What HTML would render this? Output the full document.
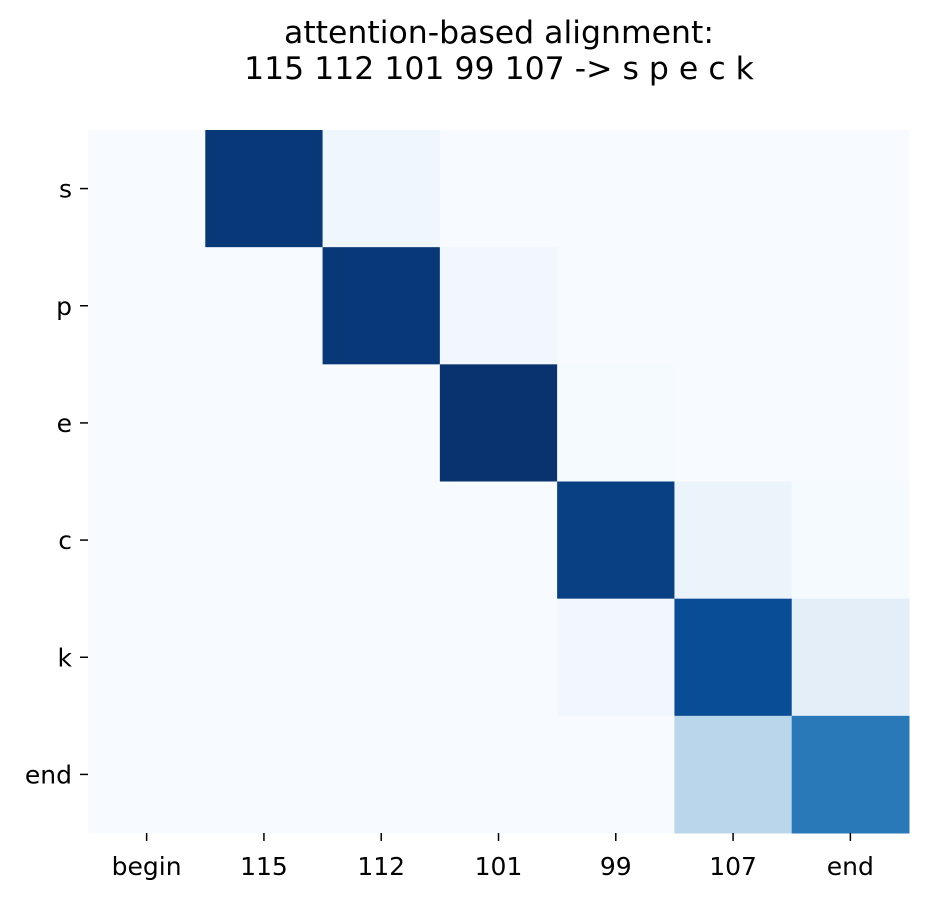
<!DOCTYPE html>
<html><head><meta charset="utf-8"><style>
body{margin:0;background:#fff;}
svg text{font-family:"DejaVu Sans","Liberation Sans",sans-serif;fill:#000;}
</style></head><body>
<svg id="chart" width="928" height="898">
<text x="499" y="43" text-anchor="middle" style="font-size:31.5px">attention-based alignment:</text>
<text x="499" y="79" text-anchor="middle" style="font-size:31.5px">115 112 101 99 107 -&gt; s p e c k</text>
<g id="cells"></g><g id="axes"></g>
</svg>
<script>
const xLabels=["begin","115","112","101","99","107","end"];
const yLabels=["s","p","e","c","k","end"];
const row_s=[0,0.97,0.04,0,0,0,0];
const row_p=[0,0,0.97,0.03,0,0,0];
const row_e=[0,0,0,0.99,0.01,0,0];
const row_c=[0,0,0,0,0.94,0.06,0.01];
const row_k=[0,0,0,0,0.03,0.89,0.1];
const row_end=[0,0,0,0,0,0.29,0.72];
const values=[row_s,row_p,row_e,row_c,row_k,row_end];
const X0=88,X1=909,Y0=130,Y1=833;
const cw=(X1-X0)/xLabels.length, ch=(Y1-Y0)/yLabels.length;
const xs=i=>X0+i*cw, ys=j=>Y0+j*ch;
const stops=["#f7fbff","#deebf7","#c6dbef","#9ecae1","#6baed6","#4292c6","#2171b5","#08519c","#08306b"];
function hex(h){return [1,3,5].map(k=>parseInt(h.substr(k,2),16));}
function blues(v){v=Math.max(0,Math.min(1,v));const p=v*8,i=Math.min(7,Math.floor(p)),t=p-i;
const a=hex(stops[i]),b=hex(stops[i+1]);return "rgb("+a.map((c,k)=>Math.round(c+(b[k]-c)*t)).join(",")+")";}
const NS="http://www.w3.org/2000/svg";
const cells=document.getElementById("cells"),axes=document.getElementById("axes");
values.forEach((row,j)=>row.forEach((v,i)=>{
 const r=document.createElementNS(NS,"rect");
 r.setAttribute("x",xs(i));r.setAttribute("y",ys(j));
 r.setAttribute("width",cw+0.5);r.setAttribute("height",ch+0.5);
 r.setAttribute("fill",blues(v));
 
 
 cells.appendChild(r);
}));
xLabels.forEach((l,i)=>{
 const cx=xs(i)+cw/2;
 const tk=document.createElementNS(NS,"line");
 tk.setAttribute("x1",cx);tk.setAttribute("x2",cx);tk.setAttribute("y1",Y1);tk.setAttribute("y2",Y1+8);
 tk.setAttribute("stroke","#000");tk.setAttribute("stroke-width","1.5");
 
 
 axes.appendChild(tk);
 const t=document.createElementNS(NS,"text");
 t.setAttribute("x",cx);t.setAttribute("y",Y1+42);t.setAttribute("text-anchor","middle");t.setAttribute("style","font-size:25px");
 t.textContent=l;
 
 
 axes.appendChild(t);
});
yLabels.forEach((l,j)=>{
 const cy=ys(j)+ch/2;
 const tk=document.createElementNS(NS,"line");
 tk.setAttribute("x1",X0-8);tk.setAttribute("x2",X0);tk.setAttribute("y1",cy);tk.setAttribute("y2",cy);
 tk.setAttribute("stroke","#000");tk.setAttribute("stroke-width","1.5");
 
 
 axes.appendChild(tk);
 const t=document.createElementNS(NS,"text");
 t.setAttribute("x",X0-16);t.setAttribute("y",cy+9);t.setAttribute("text-anchor","end");t.setAttribute("style","font-size:25px");
 t.textContent=l;
 
 
 axes.appendChild(t);
});
</script>
</body></html>
